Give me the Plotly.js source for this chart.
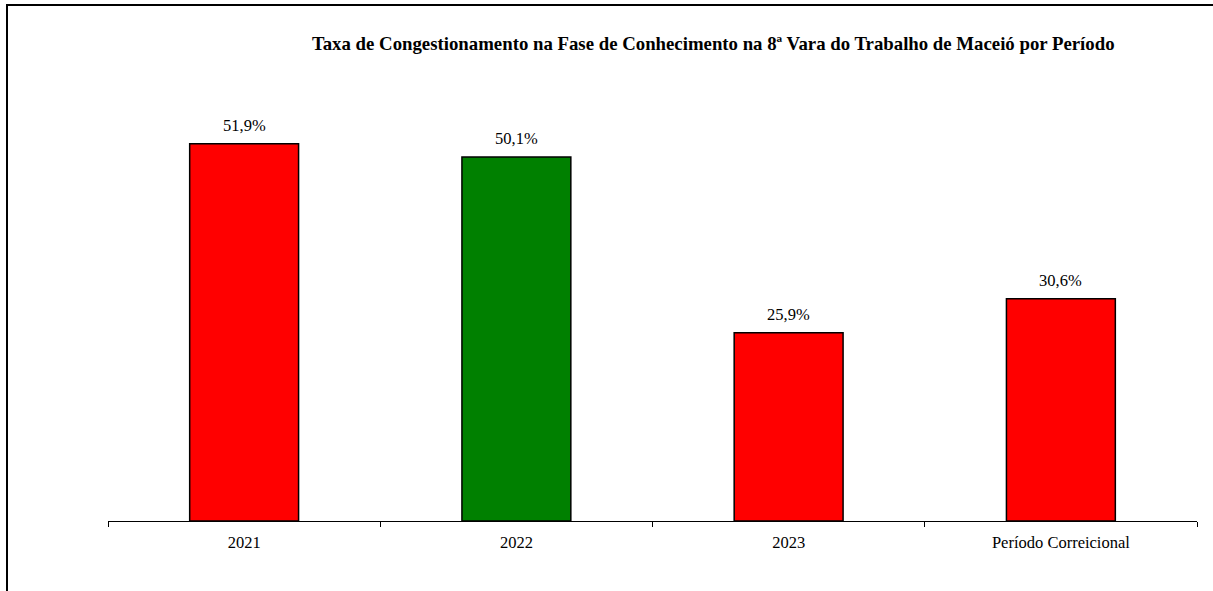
<!DOCTYPE html>
<html>
<head>
<meta charset="utf-8">
<script src="https://cdn.plot.ly/plotly-3.0.1.min.js"></script>
<style>
html,body{margin:0;padding:0;background:#fff;overflow:hidden;}
#chart{position:absolute;left:0;top:0;width:1213px;height:591px;}
#frame{position:absolute;left:6px;top:4px;width:1300px;height:700px;border:2px solid #000;pointer-events:none;}
</style>
</head>
<body>
<div id="chart"></div>
<div id="frame"></div>
<script>
const categories = ["2021", "2022", "2023", "Período Correicional"];
const values = [51.9, 50.1, 25.9, 30.6];
const labels = ["51,9%", "50,1%", "25,9%", "30,6%"];
const colors = ["#FF0000", "#008000", "#FF0000", "#FF0000"];
const titleText = "Taxa de Congestionamento na Fase de Conhecimento na 8ª Vara do Trabalho de Maceió por Período";

const serif = "Liberation Serif, Times New Roman, serif";

const trace = {
  type: "bar",
  x: categories,
  y: values,
  cliponaxis: false,
  marker: {color: colors, line: {color: "#000", width: 1.5}},
  width: 0.4,
  hoverinfo: "none"
};

const annotations = categories.map((c, i) => ({
  x: i, y: values[i], xref: "x", yref: "y",
  text: labels[i], showarrow: false,
  xanchor: "center", yanchor: "bottom", yshift: 7,
  font: {family: serif, size: 16.5, color: "#000"}
}));

const layout = {
  width: 1213,
  height: 591,
  margin: {l: 108, r: 16, t: 85, b: 70},
  paper_bgcolor: "#fff",
  plot_bgcolor: "#fff",
  showlegend: false,
  annotations: annotations,
  title: {
    text: "<b>" + titleText + "</b>",
    font: {family: serif, size: 18.8, color: "#000"},
    x: 0.588, xanchor: "center",
    y: 0.927, yanchor: "middle"
  },
  xaxis: {
    type: "category",
    categoryorder: "array", categoryarray: categories,
    range: [-0.5, categories.length - 0.5],
    showline: true, linecolor: "#000", linewidth: 1,
    ticks: "outside", tickson: "boundaries", ticklen: 5, tickcolor: "#000", tickwidth: 1,
    ticklabelstandoff: 6,
    tickangle: 0,
    tickfont: {family: serif, size: 16.5, color: "#000"},
    showgrid: false, zeroline: false
  },
  yaxis: {
    range: [0, 60],
    visible: false,
    showgrid: false, zeroline: false
  },
  font: {family: serif, color: "#000"}
};

Plotly.newPlot("chart", [trace], layout, {staticPlot: true, displayModeBar: false});
</script>
</body>
</html>
